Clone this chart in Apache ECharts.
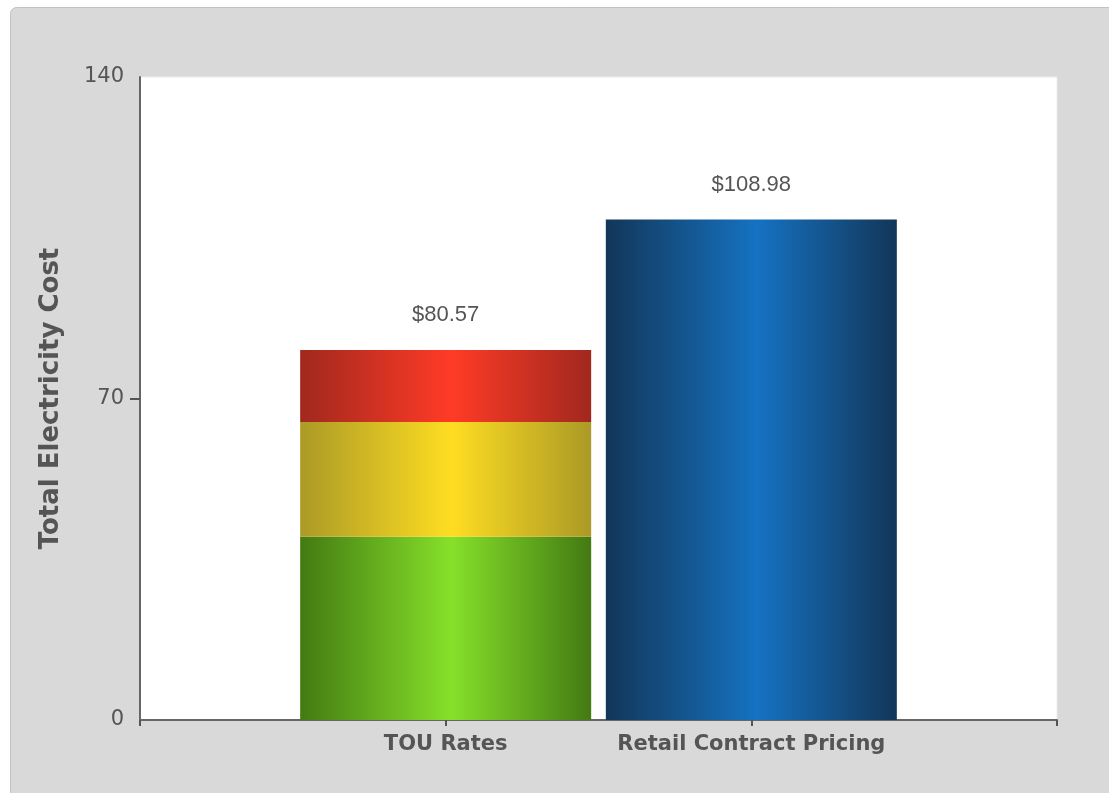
<!DOCTYPE html>
<html>
<head>
<meta charset="utf-8">
<script src="https://cdn.jsdelivr.net/npm/echarts@6/dist/echarts.min.js"></script>
<style>
html, body { margin: 0; padding: 0; background: #fff; }
#main { width: 1109px; height: 793px; }
</style>
</head>
<body>
<div id="main"></div>
<script>
// categories (empty ones pad the axis ends)
var categories = ['', 'TOU Rates', 'Retail Contract Pricing', ''];
var offPeak = ['-', 39.9, '-', '-'];
var midPeak = ['-', 25.0, '-', '-'];
var onPeak = ['-', 15.67, '-', '-'];
var retail = ['-', '-', 108.98, '-'];
var totals = ['-', 80.57, 108.98, '-'];
var yTicks = [0, 70, 140];

function barGrad(edge, mid) {
    return new echarts.graphic.LinearGradient(0, 0, 1, 0, [
        {offset: 0, color: edge},
        {offset: 0.52, color: mid},
        {offset: 1, color: edge}
    ]);
}

var topLabel = {
    show: true,
    position: 'top',
    distance: 24,
    color: '#555',
    fontFamily: 'Liberation Sans',
    fontSize: 22,
    formatter: function (p) { return '$' + totals[p.dataIndex].toFixed(2); }
};

var myChart = echarts.init(document.getElementById('main'));
var option = {
    animation: false,
    graphic: [{
        type: 'rect',
        z: -10,
        shape: {x: 10.5, y: 7.5, width: 1120, height: 820, r: 6},
        style: {fill: '#d9d9d9', stroke: '#c2c2c2', lineWidth: 1}
    }],
    grid: {
        left: 140, right: 52, top: 77, bottom: 73,
        show: true,
        backgroundColor: '#fff',
        borderColor: '#ececec',
        borderWidth: 1
    },
    xAxis: {
        type: 'category',
        data: categories,
        boundaryGap: false,
        axisLine: {lineStyle: {color: '#666', width: 2}},
        axisTick: {show: true, interval: 0, length: 6, lineStyle: {color: '#555', width: 2}},
        axisLabel: {
            interval: 0,
            margin: 14,
            color: '#555',
            fontFamily: 'DejaVu Sans',
            fontWeight: 'bold',
            fontSize: 21
        },
        splitLine: {show: false}
    },
    yAxis: {
        type: 'value',
        min: yTicks[0],
        max: yTicks[yTicks.length - 1],
        interval: yTicks[1] - yTicks[0],
        name: 'Total Electricity Cost',
        nameLocation: 'middle',
        nameGap: 76,
        nameTextStyle: {
            color: '#555',
            fontFamily: 'DejaVu Sans',
            fontWeight: 'bold',
            fontSize: 26
        },
        axisLine: {show: true, lineStyle: {color: '#666', width: 2}},
        axisTick: {show: true, customValues: [yTicks[1]], length: 10, lineStyle: {color: '#555', width: 2}},
        axisLabel: {
            margin: 16,
            color: '#555',
            fontFamily: 'DejaVu Sans',
            fontSize: 21
        },
        splitLine: {
            show: true,
            showMinLine: false,
            showMaxLine: false,
            lineStyle: {color: '#bbb', type: [2, 2], width: 1}
        }
    },
    series: [{
        name: 'Off-Peak',
        type: 'bar',
        stack: 'total',
        barWidth: 291,
        itemStyle: {color: barGrad('#437a12', '#86e02a')},
        data: offPeak
    }, {
        name: 'Mid-Peak',
        type: 'bar',
        stack: 'total',
        itemStyle: {color: barGrad('#ab9a26', '#fedd22')},
        data: midPeak
    }, {
        name: 'On-Peak',
        type: 'bar',
        stack: 'total',
        itemStyle: {color: barGrad('#a1281e', '#ff3b26')},
        label: topLabel,
        data: onPeak
    }, {
        name: 'Retail',
        type: 'bar',
        stack: 'total',
        itemStyle: {color: barGrad('#133658', '#1572c2')},
        label: topLabel,
        data: retail
    }]
};
myChart.setOption(option);
</script>
</body>
</html>
